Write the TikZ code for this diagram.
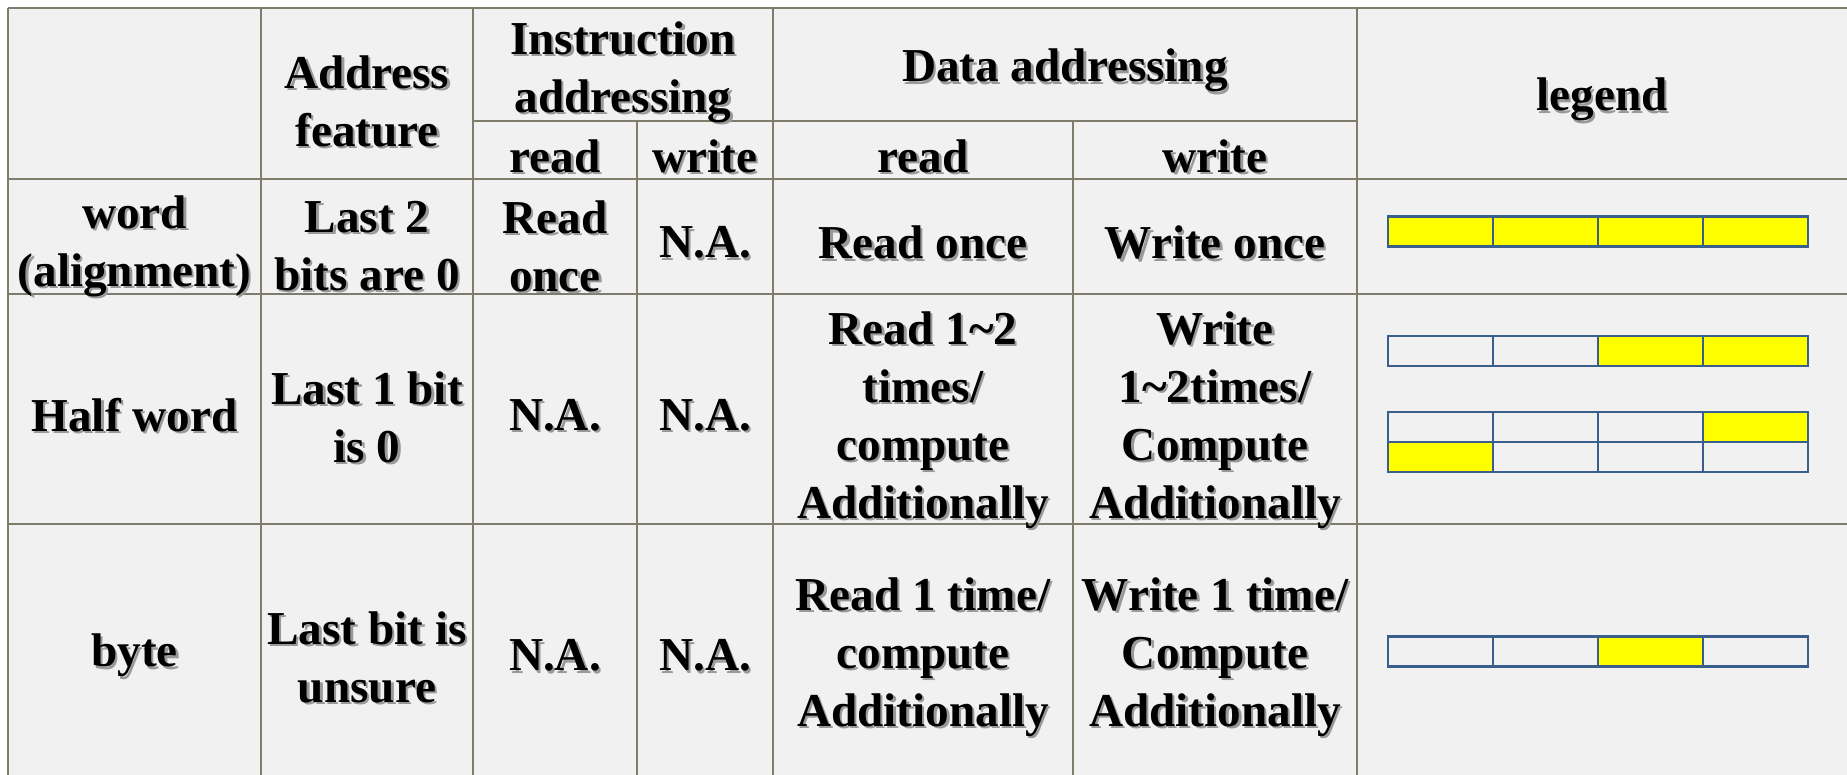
\documentclass[tikz,border=0pt]{standalone}
\usepackage{fontspec}
\setmainfont{Liberation Serif}[BoldFont={Liberation Serif Bold}]
\definecolor{gridc}{RGB}{128,124,108}
\definecolor{bg}{RGB}{241,241,241}
\definecolor{barc}{RGB}{58,95,140}
\definecolor{yel}{RGB}{255,255,0}
\tikzset{
 txt/.style={font=\fontsize{23.6}{29}\selectfont\bfseries, align=center, inner sep=0pt, text=black, yshift=-3pt},
 shd/.style={txt, text=black!40, xshift=1.2pt, yshift=-1.3pt},
 gridline/.style={draw=gridc, line width=1pt},
 cellbox/.style={draw=barc, line width=1.25pt, minimum width=52.5pt, minimum height=15pt, inner sep=0pt, fill=bg},
 full/.style={cellbox, fill=yel}
}
\newcommand\cell[3]{\node[shd] at (#2) {#3}; \node[txt] (#1) at (#2) {#3};}
\newcommand\legbar[6]{% name, y, style1..4
  \node[#3] (#1a) at (1440.5,#2) {};
  \node[#4] (#1b) at (1545.5,#2) {};
  \node[#5] (#1c) at (1650.5,#2) {};
  \node[#6] (#1d) at (1755.5,#2) {};}
\begin{document}
\begin{tikzpicture}[x=0.5pt,y=-0.5pt]
\useasboundingbox (0,0) rectangle (1847,775);
\fill[white] (0,0) rectangle (1847,775);
\fill[bg] (8,8) rectangle (1847,775);
% grid
\draw[gridline] (8,8) -- (1847,8);
\draw[gridline] (473,121) -- (1357,121);
\draw[gridline] (8,179) -- (1847,179);
\draw[gridline] (8,294) -- (1847,294);
\draw[gridline] (8,524) -- (1847,524);
\draw[gridline] (8,8) -- (8,775);
\draw[gridline] (261,8) -- (261,775);
\draw[gridline] (473,8) -- (473,775);
\draw[gridline] (773,8) -- (773,775);
\draw[gridline] (1357,8) -- (1357,775);
\draw[gridline] (637,121) -- (637,775);
\draw[gridline] (1073,121) -- (1073,775);
% header
\cell{haddr}{367,95}{Address\\feature}
\cell{hinstr}{623,66}{Instruction\\addressing}
\cell{hdata}{1065,64.5}{Data addressing}
\cell{hleg}{1602,93.5}{legend}
\cell{hir}{555,150}{read}
\cell{hiw}{705,150}{write}
\cell{hdr}{923,150}{read}
\cell{hdw}{1215,150}{write}
% row 1
\cell{wA}{134.5,240}{word\\(alignment)}
\cell{wB}{367,240}{Last 2\\bits are 0}
\cell{wC}{555,240}{Read\\once}
\cell{wD}{705,236.5}{N.A.}
\cell{wE}{923,236.5}{Read once}
\cell{wF}{1215,236.5}{Write once}
% row 2
\cell{hA}{134.5,409}{Half word}
\cell{hB}{367,411}{Last 1 bit\\is 0}
\cell{hC}{555,409}{N.A.}
\cell{hD}{705,409}{N.A.}
\cell{hE}{923,414}{Read 1\textasciitilde 2\\times/\\compute\\Additionally}
\cell{hF}{1215,414}{Write\\1\textasciitilde 2times/\\Compute\\Additionally}
% row 3
\cell{bA}{134.5,649.5}{byte}
\cell{bB}{367,651}{Last bit is\\unsure}
\cell{bC}{555,649.5}{N.A.}
\cell{bD}{705,649.5}{N.A.}
\cell{bE}{923,651}{Read 1 time/\\compute\\Additionally}
\cell{bF}{1215,651}{Write 1 time/\\Compute\\Additionally}
% legend bars
\legbar{lw}{231.5}{full}{full}{full}{full}
\legbar{lh}{351}{cellbox}{cellbox}{full}{full}
\legbar{lp}{427}{cellbox}{cellbox}{cellbox}{full}
\legbar{lq}{457}{full}{cellbox}{cellbox}{cellbox}
\legbar{lb}{651.5}{cellbox}{cellbox}{full}{cellbox}
\end{tikzpicture}
\end{document}
